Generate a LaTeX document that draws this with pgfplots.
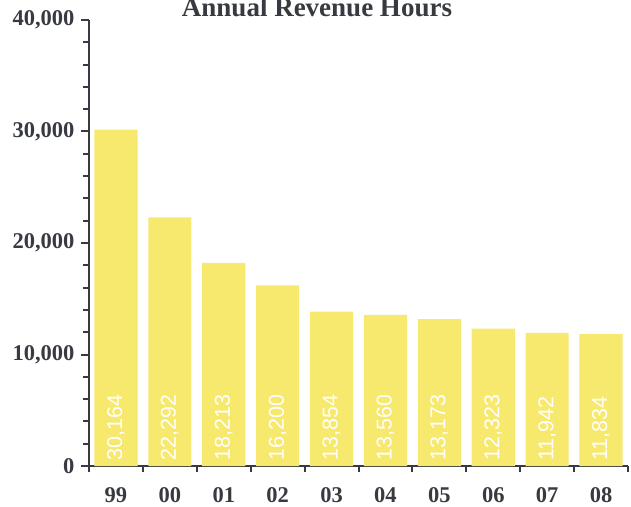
\documentclass[border=0pt]{standalone}
\usepackage{fontspec}
\setmainfont{Liberation Serif}
\newfontfamily\labelfont{Liberation Sans}
\usepackage{pgfplots}
\pgfplotsset{compat=1.18}
\definecolor{baryellow}{RGB}{247,232,110}
\definecolor{axisgray}{RGB}{55,58,64}

\begin{document}
\begin{tikzpicture}
\begin{axis}[
  at={(0,0)}, anchor=south west,
  scale only axis, width=539pt, height=446pt,
  xmin=-0.5, xmax=9.5, ymin=0, ymax=40000,
  axis lines=left,
  axis line style={axisgray, line width=2.4pt, -},
  ytick={0,10000,20000,30000,40000},
  minor y tick num=4,
  xtick={0,...,9},
  xticklabels={99,00,01,02,03,04,05,06,07,08},
  minor xtick={-0.5,0.5,...,9.5},
  major x tick style={draw=none},
  tick align=outside,
  major tick length=8pt, minor tick length=6pt,
  tick style={axisgray, line width=2pt},
  scaled y ticks=false,
  /pgf/number format/.cd, 1000 sep={,}, assume math mode=true, /pgfplots/.cd,
  ticklabel style={font=\bfseries\fontsize{22.5}{22.5}\selectfont, text=axisgray},
  xticklabel style={yshift=-10pt},
  yticklabel style={xshift=-3pt},
  title={Annual Revenue Hours},
  title style={font=\bfseries\fontsize{27}{27}\selectfont, text=axisgray,
    at={(rel axis cs:0.423,1)}, anchor=base, yshift=-3pt},
  ybar, bar width=0.8,
  visualization depends on={y \as \rawy},
  nodes near coords,
  every node near coord/.append style={
    font=\labelfont\fontsize{21.5}{21.5}\selectfont, text=white,
    shift={(axis direction cs:0,-\rawy)}, rotate=90, anchor=west, xshift=2pt,
    /pgf/number format/1000 sep={,}, /pgf/number format/assume math mode=true},
]
\addplot[fill=baryellow, draw=none] coordinates {
  (0,30164) (1,22292) (2,18213) (3,16200) (4,13854)
  (5,13560) (6,13173) (7,12323) (8,11942) (9,11834)
};
\end{axis}
\pgfresetboundingbox
\path[use as bounding box] (-89pt,-40pt) rectangle (542pt,466pt);
\end{tikzpicture}
\end{document}
